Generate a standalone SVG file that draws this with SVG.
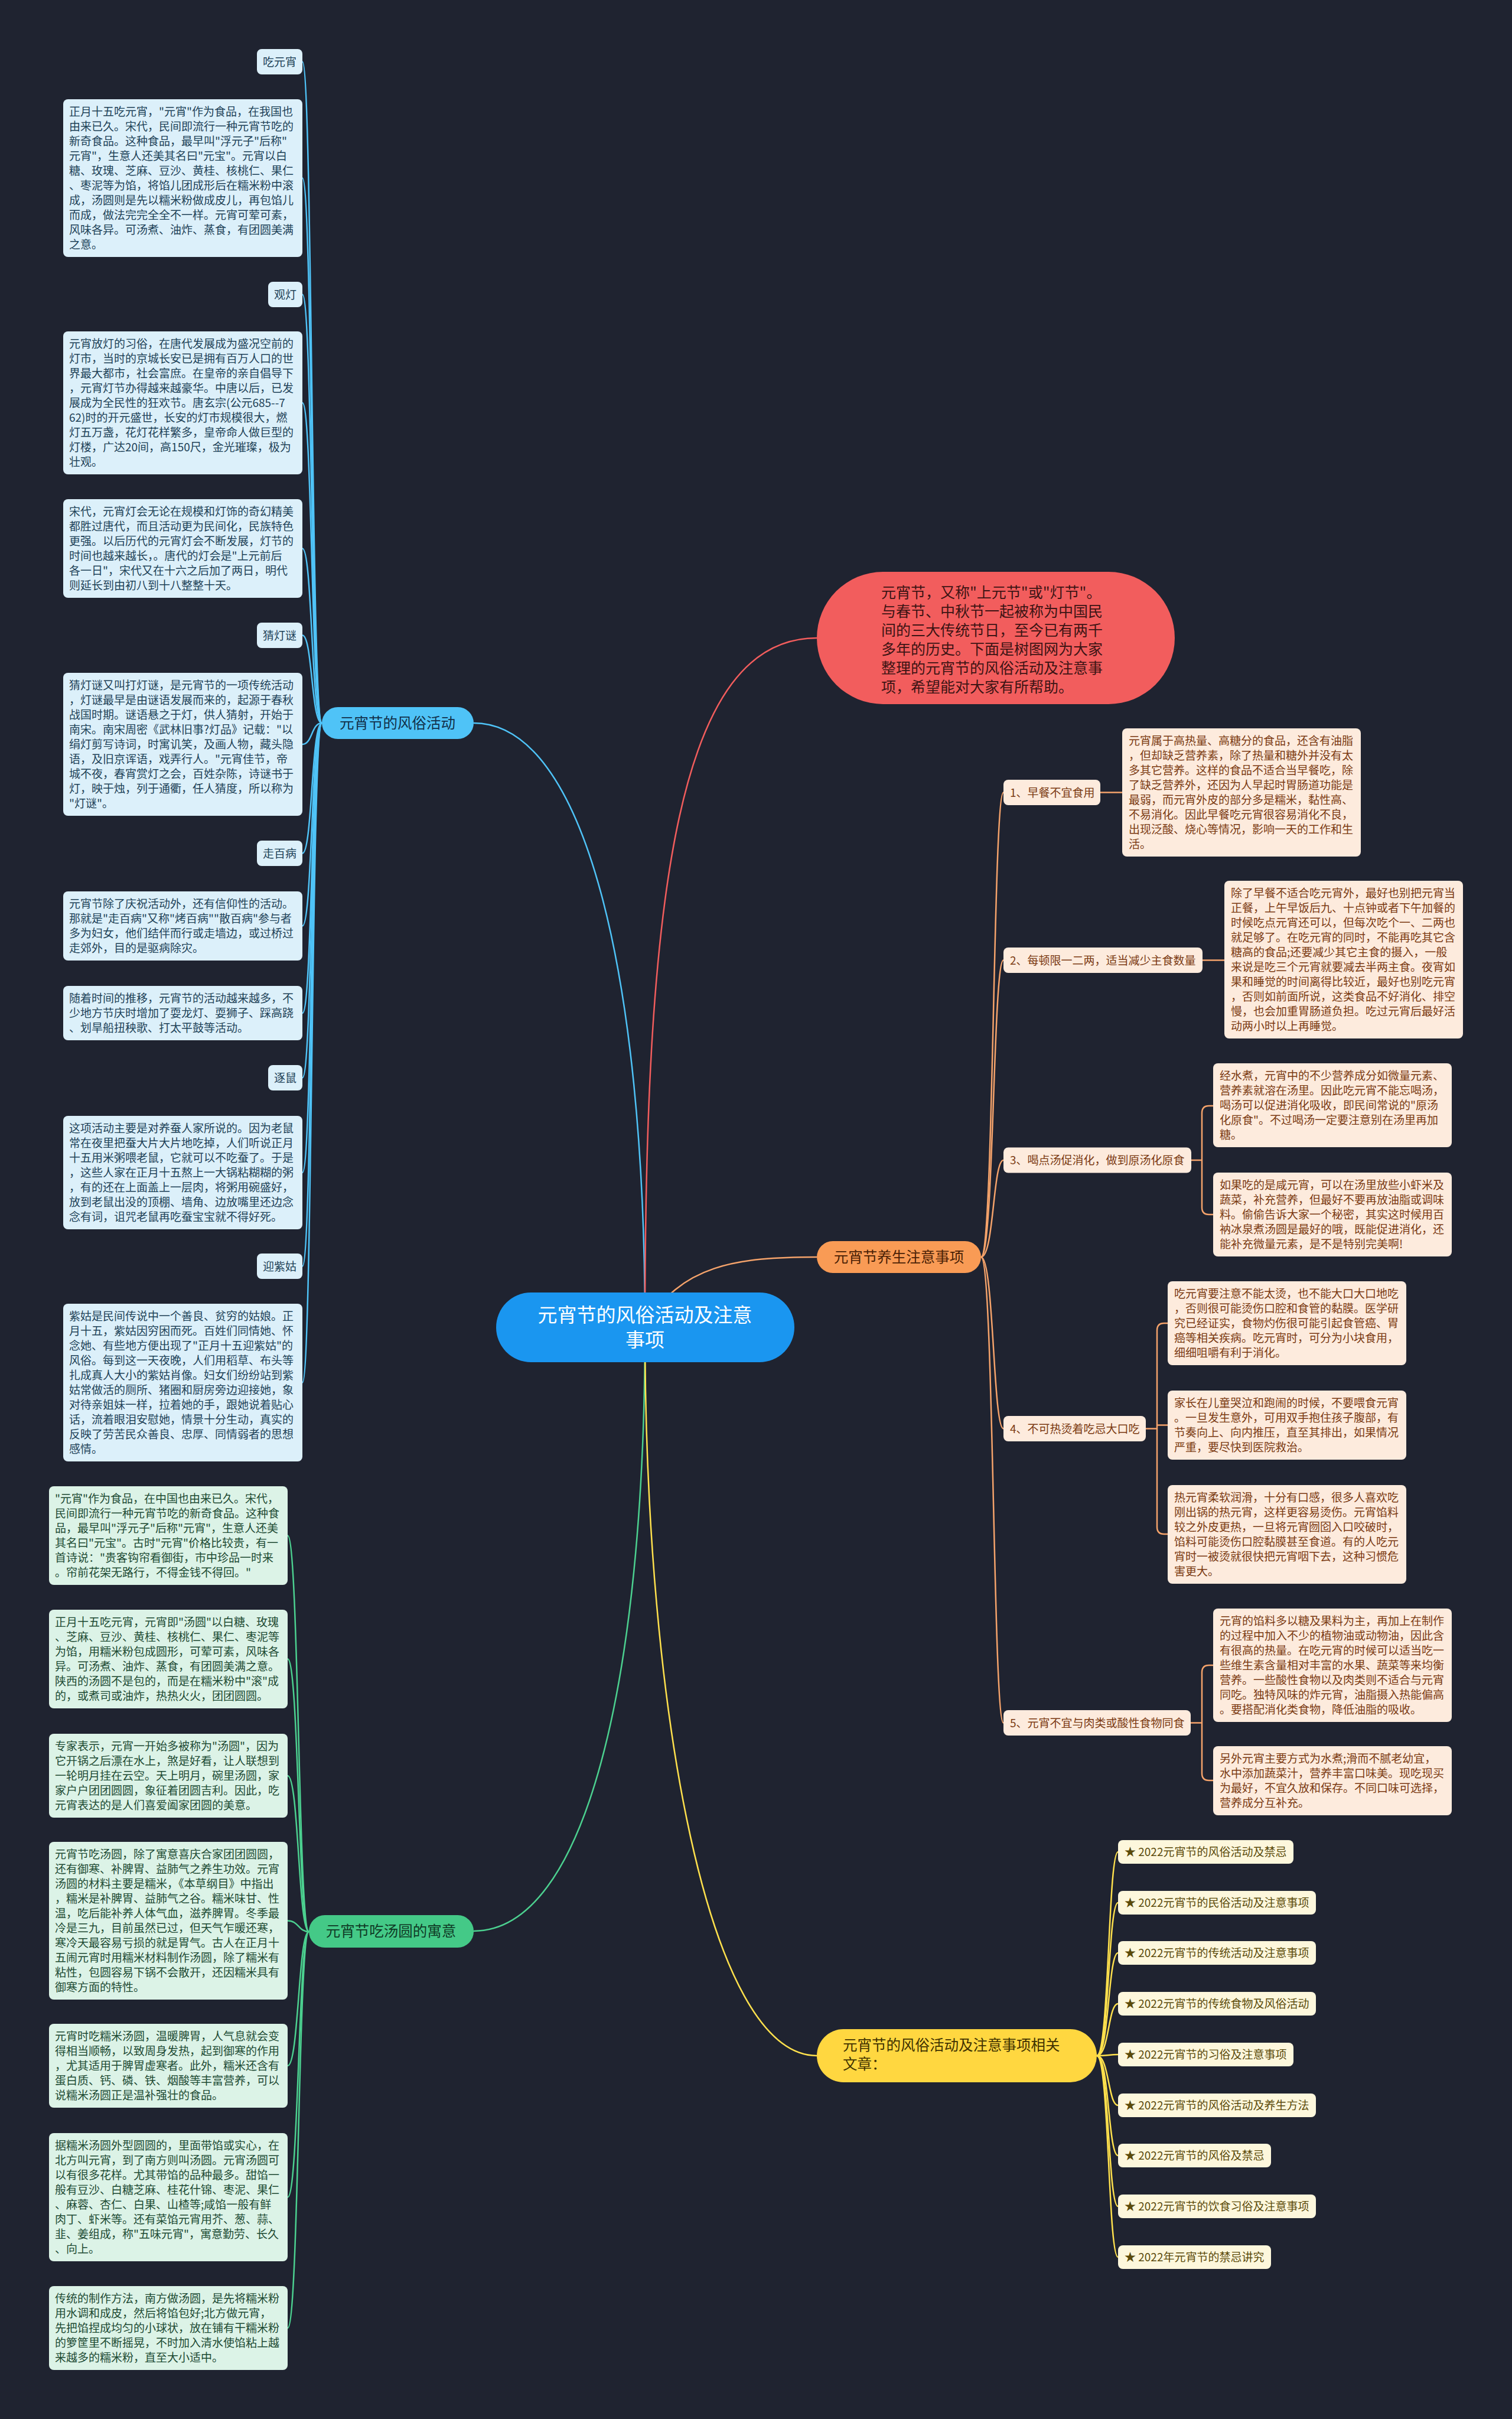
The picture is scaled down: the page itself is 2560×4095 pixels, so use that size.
<svg xmlns="http://www.w3.org/2000/svg" width="2560" height="4095" viewBox="0 0 2560 4095">
<style>
text{font-family:"Noto Sans CJK SC","Noto Sans",sans-serif}
.lf{font-size:19px}
.bl{fill:#dcf0fa}.blt{fill:#1e4258}
.or{fill:#fdebdd}.ort{fill:#7b3a12}
.gr{fill:#dcf3e7}.grt{fill:#1d4a33}
.ye{fill:#fdf7dc}.yet{fill:#5a4a0a}
.cb{fill:none;stroke:#4fc3f7;stroke-width:2.5}
.co{fill:none;stroke:#f5a36b;stroke-width:2.5}
.cg{fill:none;stroke:#4cd190;stroke-width:2.5}
.cy{fill:none;stroke:#ffe14d;stroke-width:2.5}
.cr{fill:none;stroke:#f25d5d;stroke-width:2.5}
.br{font-size:24.5px}
</style>
<rect width="2560" height="4095" fill="#1f2330"/>
<g id="connectors">
<path class="cb" d="M1092 2247 C1092 1650 990 1224 802 1224"/>
<path class="cr" d="M1092 2247 C1092 1500 1150 1080 1383 1080"/>
<path class="co" d="M1092 2247 C1150 2140 1250 2128 1383 2128"/>
<path class="cg" d="M1092 2247 C1092 2850 990 3269 802 3269"/>
<path class="cy" d="M1092 2247 C1092 2900 1200 3480 1383 3480"/>
<path class="cb" d="M545 1224 C527 1224 529 104.5 512 104.5"/>
<path class="cb" d="M545 1224 C527 1224 529 301.5 512 301.5"/>
<path class="cb" d="M545 1224 C527 1224 529 498.5 512 498.5"/>
<path class="cb" d="M545 1224 C527 1224 529 682 512 682"/>
<path class="cb" d="M545 1224 C527 1224 529 928.5 512 928.5"/>
<path class="cb" d="M545 1224 C527 1224 529 1075.5 512 1075.5"/>
<path class="cb" d="M545 1224 C527 1224 529 1260 512 1260"/>
<path class="cb" d="M545 1224 C527 1224 529 1444.5 512 1444.5"/>
<path class="cb" d="M545 1224 C527 1224 529 1567.5 512 1567.5"/>
<path class="cb" d="M545 1224 C527 1224 529 1715 512 1715"/>
<path class="cb" d="M545 1224 C527 1224 529 1824.5 512 1824.5"/>
<path class="cb" d="M545 1224 C527 1224 529 1985 512 1985"/>
<path class="cb" d="M545 1224 C527 1224 529 2143.5 512 2143.5"/>
<path class="cb" d="M545 1224 C527 1224 529 2340.5 512 2340.5"/>
<path class="cg" d="M523 3270 C505 3270 506 2599.5 487 2599.5"/>
<path class="cg" d="M523 3270 C505 3270 506 2808.5 487 2808.5"/>
<path class="cg" d="M523 3270 C505 3270 506 3006 487 3006"/>
<path class="cg" d="M523 3270 C505 3270 506 3251.5 487 3251.5"/>
<path class="cg" d="M523 3270 C505 3270 506 3497 487 3497"/>
<path class="cg" d="M523 3270 C505 3270 506 3719.5 487 3719.5"/>
<path class="cg" d="M523 3270 C505 3270 506 3941 487 3941"/>
<path class="co" d="M1661 2128 C1683 2128 1681 1341.5 1699 1341.5"/>
<path class="co" d="M1661 2128 C1683 2128 1681 1625.5 1699 1625.5"/>
<path class="co" d="M1661 2128 C1683 2128 1681 1964 1699 1964"/>
<path class="co" d="M1661 2128 C1683 2128 1681 2418.5 1699 2418.5"/>
<path class="co" d="M1661 2128 C1683 2128 1681 2916.5 1699 2916.5"/>
<path class="co" d="M1863 1341.5 H1900"/>
<path class="co" d="M2036 1625.5 H2073"/>
<path class="co" d="M2017 1964 H2035 M2035 1964 V1884 Q2035 1872 2047 1872 H2054 M2035 1964 V2044 Q2035 2056 2047 2056 H2054"/>
<path class="co" d="M1940 2418.5 H1959 M1959 2418.5 V2252 Q1959 2240 1971 2240 H1977 M1959 2418.5 V2412.5 H1977 M1959 2418.5 V2585 Q1959 2597 1971 2597 H1977"/>
<path class="co" d="M2016 2916.5 H2035 M2035 2916.5 V2831 Q2035 2819 2047 2819 H2054 M2035 2916.5 V3002 Q2035 3014 2047 3014 H2054"/>
<path class="cy" d="M1857 3480 C1878 3480 1876 3135 1893 3135"/>
<path class="cy" d="M1857 3480 C1878 3480 1876 3221 1893 3221"/>
<path class="cy" d="M1857 3480 C1878 3480 1876 3306 1893 3306"/>
<path class="cy" d="M1857 3480 C1878 3480 1876 3392 1893 3392"/>
<path class="cy" d="M1857 3480 C1878 3480 1876 3478 1893 3478"/>
<path class="cy" d="M1857 3480 C1878 3480 1876 3564 1893 3564"/>
<path class="cy" d="M1857 3480 C1878 3480 1876 3649 1893 3649"/>
<path class="cy" d="M1857 3480 C1878 3480 1876 3735 1893 3735"/>
<path class="cy" d="M1857 3480 C1878 3480 1876 3821 1893 3821"/>
</g>
<g id="root">
<rect x="840" y="2188" width="505" height="118" rx="59" fill="#1a96f0"/>
<text x="1092" y="2238" font-size="33" fill="#ffffff" text-anchor="middle">元宵节的风俗活动及注意</text>
<text x="1092" y="2280" font-size="33" fill="#ffffff" text-anchor="middle">事项</text>
</g>
<g id="intro">
<rect x="1383" y="968" width="606" height="224" rx="112" fill="#f25d5d"/>
<text font-size="25" fill="#3d1414"><tspan x="1492" y="1012">元宵节，又称"上元节"或"灯节"。</tspan><tspan x="1492" y="1044">与春节、中秋节一起被称为中国民</tspan><tspan x="1492" y="1076">间的三大传统节日，至今已有两千</tspan><tspan x="1492" y="1108">多年的历史。下面是树图网为大家</tspan><tspan x="1492" y="1140">整理的元宵节的风俗活动及注意事</tspan><tspan x="1492" y="1172">项，希望能对大家有所帮助。</tspan></text>
</g>
<g id="branch-customs">
<rect x="545" y="1197" width="257" height="54" rx="27" fill="#4fc3f7"/>
<text class="br" x="673" y="1233" fill="#12304a" text-anchor="middle">元宵节的风俗活动</text>
</g>
<g id="branch-health">
<rect x="1383" y="2101" width="278" height="54" rx="27" fill="#f99b55"/>
<text class="br" x="1522" y="2137" fill="#4a1f05" text-anchor="middle">元宵节养生注意事项</text>
</g>
<g id="branch-tangyuan">
<rect x="523" y="3242" width="279" height="55" rx="27" fill="#44c987"/>
<text class="br" x="662" y="3278" fill="#0f3a25" text-anchor="middle">元宵节吃汤圆的寓意</text>
</g>
<g id="branch-articles">
<rect x="1383" y="3435" width="474" height="90" rx="45" fill="#ffd740"/>
<text class="br" fill="#3f3200"><tspan x="1427" y="3471">元宵节的风俗活动及注意事项相关</tspan><tspan x="1427" y="3503">文章：</tspan></text>
</g>
<g id="blue-leaves" class="lf">
<g id="b-chiyuanxiao"><rect class="bl" x="435" y="83" width="77" height="43" rx="8"/><text class="blt" x="473.5" y="111.5" text-anchor="middle">吃元宵</text></g>
<g id="b-p1"><rect class="bl" x="107" y="168" width="405" height="267" rx="8"/><text class="blt"><tspan x="117" y="196">正月十五吃元宵，"元宵"作为食品，在我国也</tspan><tspan x="117" y="221">由来已久。宋代，民间即流行一种元宵节吃的</tspan><tspan x="117" y="246">新奇食品。这种食品，最早叫"浮元子"后称"</tspan><tspan x="117" y="271">元宵"，生意人还美其名曰"元宝"。元宵以白</tspan><tspan x="117" y="296">糖、玫瑰、芝麻、豆沙、黄桂、核桃仁、果仁</tspan><tspan x="117" y="321">、枣泥等为馅，将馅儿团成形后在糯米粉中滚</tspan><tspan x="117" y="346">成，汤圆则是先以糯米粉做成皮儿，再包馅儿</tspan><tspan x="117" y="371">而成，做法完完全全不一样。元宵可荤可素，</tspan><tspan x="117" y="396">风味各异。可汤煮、油炸、蒸食，有团圆美满</tspan><tspan x="117" y="421">之意。</tspan></text></g>
<g id="b-guandeng"><rect class="bl" x="454" y="477" width="58" height="43" rx="8"/><text class="blt" x="483" y="505.5" text-anchor="middle">观灯</text></g>
<g id="b-p2"><rect class="bl" x="107" y="561" width="405" height="242" rx="8"/><text class="blt"><tspan x="117" y="589">元宵放灯的习俗，在唐代发展成为盛况空前的</tspan><tspan x="117" y="614">灯市，当时的京城长安已是拥有百万人口的世</tspan><tspan x="117" y="639">界最大都市，社会富庶。在皇帝的亲自倡导下</tspan><tspan x="117" y="664">，元宵灯节办得越来越豪华。中唐以后，已发</tspan><tspan x="117" y="689">展成为全民性的狂欢节。唐玄宗(公元685--7</tspan><tspan x="117" y="714">62)时的开元盛世，长安的灯市规模很大，燃</tspan><tspan x="117" y="739">灯五万盏，花灯花样繁多，皇帝命人做巨型的</tspan><tspan x="117" y="764">灯楼，广达20间，高150尺，金光璀璨，极为</tspan><tspan x="117" y="789">壮观。</tspan></text></g>
<g id="b-p3"><rect class="bl" x="107" y="845" width="405" height="167" rx="8"/><text class="blt"><tspan x="117" y="873">宋代，元宵灯会无论在规模和灯饰的奇幻精美</tspan><tspan x="117" y="898">都胜过唐代，而且活动更为民间化，民族特色</tspan><tspan x="117" y="923">更强。以后历代的元宵灯会不断发展，灯节的</tspan><tspan x="117" y="948">时间也越来越长，。唐代的灯会是"上元前后</tspan><tspan x="117" y="973">各一日"，宋代又在十六之后加了两日，明代</tspan><tspan x="117" y="998">则延长到由初八到十八整整十天。</tspan></text></g>
<g id="b-caidengmi"><rect class="bl" x="435" y="1054" width="77" height="43" rx="8"/><text class="blt" x="473.5" y="1082.5" text-anchor="middle">猜灯谜</text></g>
<g id="b-p4"><rect class="bl" x="107" y="1139" width="405" height="242" rx="8"/><text class="blt"><tspan x="117" y="1167">猜灯谜又叫打灯谜，是元宵节的一项传统活动</tspan><tspan x="117" y="1192">，灯谜最早是由谜语发展而来的，起源于春秋</tspan><tspan x="117" y="1217">战国时期。谜语悬之于灯，供人猜射，开始于</tspan><tspan x="117" y="1242">南宋。南宋周密《武林旧事?灯品》记载："以</tspan><tspan x="117" y="1267">绢灯剪写诗词，时寓讥笑，及画人物，藏头隐</tspan><tspan x="117" y="1292">语，及旧京诨语，戏弄行人。"元宵佳节，帝</tspan><tspan x="117" y="1317">城不夜，春宵赏灯之会，百姓杂陈，诗谜书于</tspan><tspan x="117" y="1342">灯，映于烛，列于通衢，任人猜度，所以称为</tspan><tspan x="117" y="1367">"灯谜"。</tspan></text></g>
<g id="b-zoubaibing"><rect class="bl" x="435" y="1423" width="77" height="43" rx="8"/><text class="blt" x="473.5" y="1451.5" text-anchor="middle">走百病</text></g>
<g id="b-p5"><rect class="bl" x="107" y="1509" width="405" height="117" rx="8"/><text class="blt"><tspan x="117" y="1537">元宵节除了庆祝活动外，还有信仰性的活动。</tspan><tspan x="117" y="1562">那就是"走百病"又称"烤百病""散百病"参与者</tspan><tspan x="117" y="1587">多为妇女，他们结伴而行或走墙边，或过桥过</tspan><tspan x="117" y="1612">走郊外，目的是驱病除灾。</tspan></text></g>
<g id="b-p6"><rect class="bl" x="107" y="1669" width="405" height="92" rx="8"/><text class="blt"><tspan x="117" y="1697">随着时间的推移，元宵节的活动越来越多，不</tspan><tspan x="117" y="1722">少地方节庆时增加了耍龙灯、耍狮子、踩高跷</tspan><tspan x="117" y="1747">、划旱船扭秧歌、打太平鼓等活动。</tspan></text></g>
<g id="b-zhushu"><rect class="bl" x="454" y="1803" width="58" height="43" rx="8"/><text class="blt" x="483" y="1831.5" text-anchor="middle">逐鼠</text></g>
<g id="b-p7"><rect class="bl" x="107" y="1889" width="405" height="192" rx="8"/><text class="blt"><tspan x="117" y="1917">这项活动主要是对养蚕人家所说的。因为老鼠</tspan><tspan x="117" y="1942">常在夜里把蚕大片大片地吃掉，人们听说正月</tspan><tspan x="117" y="1967">十五用米粥喂老鼠，它就可以不吃蚕了。于是</tspan><tspan x="117" y="1992">，这些人家在正月十五熬上一大锅粘糊糊的粥</tspan><tspan x="117" y="2017">，有的还在上面盖上一层肉，将粥用碗盛好，</tspan><tspan x="117" y="2042">放到老鼠出没的顶棚、墙角、边放嘴里还边念</tspan><tspan x="117" y="2067">念有词，诅咒老鼠再吃蚕宝宝就不得好死。</tspan></text></g>
<g id="b-yingzigu"><rect class="bl" x="435" y="2122" width="77" height="43" rx="8"/><text class="blt" x="473.5" y="2150.5" text-anchor="middle">迎紫姑</text></g>
<g id="b-p8"><rect class="bl" x="107" y="2207" width="405" height="267" rx="8"/><text class="blt"><tspan x="117" y="2235">紫姑是民间传说中一个善良、贫穷的姑娘。正</tspan><tspan x="117" y="2260">月十五，紫姑因穷困而死。百姓们同情她、怀</tspan><tspan x="117" y="2285">念她、有些地方便出现了"正月十五迎紫姑"的</tspan><tspan x="117" y="2310">风俗。每到这一天夜晚，人们用稻草、布头等</tspan><tspan x="117" y="2335">扎成真人大小的紫姑肖像。妇女们纷纷站到紫</tspan><tspan x="117" y="2360">姑常做活的厕所、猪圈和厨房旁边迎接她，象</tspan><tspan x="117" y="2385">对待亲姐妹一样，拉着她的手，跟她说着贴心</tspan><tspan x="117" y="2410">话，流着眼泪安慰她，情景十分生动，真实的</tspan><tspan x="117" y="2435">反映了劳苦民众善良、忠厚、同情弱者的思想</tspan><tspan x="117" y="2460">感情。</tspan></text></g>
</g>
<g id="green-leaves" class="lf">
<g id="g-p1"><rect class="gr" x="83" y="2516" width="404" height="167" rx="8"/><text class="grt"><tspan x="93" y="2544">"元宵"作为食品，在中国也由来已久。宋代，</tspan><tspan x="93" y="2569">民间即流行一种元宵节吃的新奇食品。这种食</tspan><tspan x="93" y="2594">品，最早叫"浮元子"后称"元宵"，生意人还美</tspan><tspan x="93" y="2619">其名曰"元宝"。古时"元宵"价格比较贵，有一</tspan><tspan x="93" y="2644">首诗说："贵客钩帘看御街，市中珍品一时来</tspan><tspan x="93" y="2669">。帘前花架无路行，不得金钱不得回。"</tspan></text></g>
<g id="g-p2"><rect class="gr" x="83" y="2725" width="404" height="167" rx="8"/><text class="grt"><tspan x="93" y="2753">正月十五吃元宵，元宵即"汤圆"以白糖、玫瑰</tspan><tspan x="93" y="2778">、芝麻、豆沙、黄桂、核桃仁、果仁、枣泥等</tspan><tspan x="93" y="2803">为馅，用糯米粉包成圆形，可荤可素，风味各</tspan><tspan x="93" y="2828">异。可汤煮、油炸、蒸食，有团圆美满之意。</tspan><tspan x="93" y="2853">陕西的汤圆不是包的，而是在糯米粉中"滚"成</tspan><tspan x="93" y="2878">的，或煮司或油炸，热热火火，团团圆圆。</tspan></text></g>
<g id="g-p3"><rect class="gr" x="83" y="2935" width="404" height="142" rx="8"/><text class="grt"><tspan x="93" y="2963">专家表示，元宵一开始多被称为"汤圆"，因为</tspan><tspan x="93" y="2988">它开锅之后漂在水上，煞是好看，让人联想到</tspan><tspan x="93" y="3013">一轮明月挂在云空。天上明月，碗里汤圆，家</tspan><tspan x="93" y="3038">家户户团团圆圆，象征着团圆吉利。因此，吃</tspan><tspan x="93" y="3063">元宵表达的是人们喜爱阖家团圆的美意。</tspan></text></g>
<g id="g-p4"><rect class="gr" x="83" y="3118" width="404" height="267" rx="8"/><text class="grt"><tspan x="93" y="3146">元宵节吃汤圆，除了寓意喜庆合家团团圆圆，</tspan><tspan x="93" y="3171">还有御寒、补脾胃、益肺气之养生功效。元宵</tspan><tspan x="93" y="3196">汤圆的材料主要是糯米，《本草纲目》中指出</tspan><tspan x="93" y="3221">，糯米是补脾胃、益肺气之谷。糯米味甘、性</tspan><tspan x="93" y="3246">温，吃后能补养人体气血，滋养脾胃。冬季最</tspan><tspan x="93" y="3271">冷是三九，目前虽然已过，但天气乍暖还寒，</tspan><tspan x="93" y="3296">寒冷天最容易亏损的就是胃气。古人在正月十</tspan><tspan x="93" y="3321">五闹元宵时用糯米材料制作汤圆，除了糯米有</tspan><tspan x="93" y="3346">粘性，包圆容易下锅不会散开，还因糯米具有</tspan><tspan x="93" y="3371">御寒方面的特性。</tspan></text></g>
<g id="g-p5"><rect class="gr" x="83" y="3426" width="404" height="142" rx="8"/><text class="grt"><tspan x="93" y="3454">元宵时吃糯米汤圆，温暖脾胃，人气息就会变</tspan><tspan x="93" y="3479">得相当顺畅，以致周身发热，起到御寒的作用</tspan><tspan x="93" y="3504">，尤其适用于脾胃虚寒者。此外，糯米还含有</tspan><tspan x="93" y="3529">蛋白质、钙、磷、铁、烟酸等丰富营养，可以</tspan><tspan x="93" y="3554">说糯米汤圆正是温补强壮的食品。</tspan></text></g>
<g id="g-p6"><rect class="gr" x="83" y="3611" width="404" height="217" rx="8"/><text class="grt"><tspan x="93" y="3639">据糯米汤圆外型圆圆的，里面带馅或实心，在</tspan><tspan x="93" y="3664">北方叫元宵，到了南方则叫汤圆。元宵汤圆可</tspan><tspan x="93" y="3689">以有很多花样。尤其带馅的品种最多。甜馅一</tspan><tspan x="93" y="3714">般有豆沙、白糖芝麻、桂花什锦、枣泥、果仁</tspan><tspan x="93" y="3739">、麻蓉、杏仁、白果、山楂等;咸馅一般有鲜</tspan><tspan x="93" y="3764">肉丁、虾米等。还有菜馅元宵用芥、葱、蒜、</tspan><tspan x="93" y="3789">韭、姜组成，称"五味元宵"，寓意勤劳、长久</tspan><tspan x="93" y="3814">、向上。</tspan></text></g>
<g id="g-p7"><rect class="gr" x="83" y="3870" width="404" height="142" rx="8"/><text class="grt"><tspan x="93" y="3898">传统的制作方法，南方做汤圆，是先将糯米粉</tspan><tspan x="93" y="3923">用水调和成皮，然后将馅包好;北方做元宵，</tspan><tspan x="93" y="3948">先把馅捏成均匀的小球状，放在铺有干糯米粉</tspan><tspan x="93" y="3973">的箩筐里不断摇晃，不时加入清水使馅粘上越</tspan><tspan x="93" y="3998">来越多的糯米粉，直至大小适中。</tspan></text></g>
</g>
<g id="orange-nodes" class="lf">
<g id="o-n1"><rect class="or" x="1699" y="1320" width="164" height="43" rx="8"/><text class="ort" x="1710" y="1348.5">1、早餐不宜食用</text></g>
<g id="o-p1"><rect class="or" x="1900" y="1233" width="404" height="217" rx="8"/><text class="ort"><tspan x="1911" y="1261">元宵属于高热量、高糖分的食品，还含有油脂</tspan><tspan x="1911" y="1286">，但却缺乏营养素，除了热量和糖外并没有太</tspan><tspan x="1911" y="1311">多其它营养。这样的食品不适合当早餐吃，除</tspan><tspan x="1911" y="1336">了缺乏营养外，还因为人早起时胃肠道功能是</tspan><tspan x="1911" y="1361">最弱，而元宵外皮的部分多是糯米，黏性高、</tspan><tspan x="1911" y="1386">不易消化。因此早餐吃元宵很容易消化不良，</tspan><tspan x="1911" y="1411">出现泛酸、烧心等情况，影响一天的工作和生</tspan><tspan x="1911" y="1436">活。</tspan></text></g>
<g id="o-n2"><rect class="or" x="1699" y="1604" width="337" height="43" rx="8"/><text class="ort" x="1710" y="1632.5">2、每顿限一二两，适当减少主食数量</text></g>
<g id="o-p2"><rect class="or" x="2073" y="1491" width="404" height="267" rx="8"/><text class="ort"><tspan x="2084" y="1519">除了早餐不适合吃元宵外，最好也别把元宵当</tspan><tspan x="2084" y="1544">正餐，上午早饭后九、十点钟或者下午加餐的</tspan><tspan x="2084" y="1569">时候吃点元宵还可以，但每次吃个一、二两也</tspan><tspan x="2084" y="1594">就足够了。在吃元宵的同时，不能再吃其它含</tspan><tspan x="2084" y="1619">糖高的食品;还要减少其它主食的摄入，一般</tspan><tspan x="2084" y="1644">来说是吃三个元宵就要减去半两主食。夜宵如</tspan><tspan x="2084" y="1669">果和睡觉的时间离得比较近，最好也别吃元宵</tspan><tspan x="2084" y="1694">，否则如前面所说，这类食品不好消化、排空</tspan><tspan x="2084" y="1719">慢，也会加重胃肠道负担。吃过元宵后最好活</tspan><tspan x="2084" y="1744">动两小时以上再睡觉。</tspan></text></g>
<g id="o-n3"><rect class="or" x="1699" y="1942.5" width="318" height="43" rx="8"/><text class="ort" x="1710" y="1971">3、喝点汤促消化，做到原汤化原食</text></g>
<g id="o-p3a"><rect class="or" x="2054" y="1800" width="404" height="142" rx="8"/><text class="ort"><tspan x="2065" y="1828">经水煮，元宵中的不少营养成分如微量元素、</tspan><tspan x="2065" y="1853">营养素就溶在汤里。因此吃元宵不能忘喝汤，</tspan><tspan x="2065" y="1878">喝汤可以促进消化吸收，即民间常说的"原汤</tspan><tspan x="2065" y="1903">化原食"。不过喝汤一定要注意别在汤里再加</tspan><tspan x="2065" y="1928">糖。</tspan></text></g>
<g id="o-p3b"><rect class="or" x="2054" y="1985" width="404" height="142" rx="8"/><text class="ort"><tspan x="2065" y="2013">如果吃的是咸元宵，可以在汤里放些小虾米及</tspan><tspan x="2065" y="2038">蔬菜，补充营养，但最好不要再放油脂或调味</tspan><tspan x="2065" y="2063">料。偷偷告诉大家一个秘密，其实这时候用百</tspan><tspan x="2065" y="2088">衲冰泉煮汤圆是最好的哦，既能促进消化，还</tspan><tspan x="2065" y="2113">能补充微量元素，是不是特别完美啊!</tspan></text></g>
<g id="o-n4"><rect class="or" x="1699" y="2397" width="241" height="43" rx="8"/><text class="ort" x="1710" y="2425.5">4、不可热烫着吃忌大口吃</text></g>
<g id="o-p4a"><rect class="or" x="1977" y="2169" width="404" height="142" rx="8"/><text class="ort"><tspan x="1988" y="2197">吃元宵要注意不能太烫，也不能大口大口地吃</tspan><tspan x="1988" y="2222">，否则很可能烫伤口腔和食管的黏膜。医学研</tspan><tspan x="1988" y="2247">究已经证实，食物灼伤很可能引起食管癌、胃</tspan><tspan x="1988" y="2272">癌等相关疾病。吃元宵时，可分为小块食用，</tspan><tspan x="1988" y="2297">细细咀嚼有利于消化。</tspan></text></g>
<g id="o-p4b"><rect class="or" x="1977" y="2354" width="404" height="117" rx="8"/><text class="ort"><tspan x="1988" y="2382">家长在儿童哭泣和跑闹的时候，不要喂食元宵</tspan><tspan x="1988" y="2407">。一旦发生意外，可用双手抱住孩子腹部，有</tspan><tspan x="1988" y="2432">节奏向上、向内推压，直至其排出，如果情况</tspan><tspan x="1988" y="2457">严重，要尽快到医院救治。</tspan></text></g>
<g id="o-p4c"><rect class="or" x="1977" y="2514" width="404" height="167" rx="8"/><text class="ort"><tspan x="1988" y="2542">热元宵柔软润滑，十分有口感，很多人喜欢吃</tspan><tspan x="1988" y="2567">刚出锅的热元宵，这样更容易烫伤。元宵馅料</tspan><tspan x="1988" y="2592">较之外皮更热，一旦将元宵囫囵入口咬破时，</tspan><tspan x="1988" y="2617">馅料可能烫伤口腔黏膜甚至食道。有的人吃元</tspan><tspan x="1988" y="2642">宵时一被烫就很快把元宵咽下去，这种习惯危</tspan><tspan x="1988" y="2667">害更大。</tspan></text></g>
<g id="o-n5"><rect class="or" x="1699" y="2895" width="317" height="43" rx="8"/><text class="ort" x="1710" y="2923.5">5、元宵不宜与肉类或酸性食物同食</text></g>
<g id="o-p5a"><rect class="or" x="2054" y="2723" width="404" height="192" rx="8"/><text class="ort"><tspan x="2065" y="2751">元宵的馅料多以糖及果料为主，再加上在制作</tspan><tspan x="2065" y="2776">的过程中加入不少的植物油或动物油，因此含</tspan><tspan x="2065" y="2801">有很高的热量。在吃元宵的时候可以适当吃一</tspan><tspan x="2065" y="2826">些维生素含量相对丰富的水果、蔬菜等来均衡</tspan><tspan x="2065" y="2851">营养。一些酸性食物以及肉类则不适合与元宵</tspan><tspan x="2065" y="2876">同吃。独特风味的炸元宵，油脂摄入热能偏高</tspan><tspan x="2065" y="2901">。要搭配消化类食物，降低油脂的吸收。</tspan></text></g>
<g id="o-p5b"><rect class="or" x="2054" y="2956" width="404" height="117" rx="8"/><text class="ort"><tspan x="2065" y="2984">另外元宵主要方式为水煮;滑而不腻老幼宜，</tspan><tspan x="2065" y="3009">水中添加蔬菜汁，营养丰富口味美。现吃现买</tspan><tspan x="2065" y="3034">为最好，不宜久放和保存。不同口味可选择，</tspan><tspan x="2065" y="3059">营养成分互补充。</tspan></text></g>
</g>
<g id="yellow-items" class="lf">
<g id="y1"><rect class="ye" x="1893" y="3115" width="297" height="40" rx="8"/><text class="yet" x="1904" y="3142">★ 2022元宵节的风俗活动及禁忌</text></g>
<g id="y2"><rect class="ye" x="1893" y="3201" width="335" height="40" rx="8"/><text class="yet" x="1904" y="3228">★ 2022元宵节的民俗活动及注意事项</text></g>
<g id="y3"><rect class="ye" x="1893" y="3286" width="335" height="40" rx="8"/><text class="yet" x="1904" y="3313">★ 2022元宵节的传统活动及注意事项</text></g>
<g id="y4"><rect class="ye" x="1893" y="3372" width="335" height="40" rx="8"/><text class="yet" x="1904" y="3399">★ 2022元宵节的传统食物及风俗活动</text></g>
<g id="y5"><rect class="ye" x="1893" y="3458" width="297" height="40" rx="8"/><text class="yet" x="1904" y="3485">★ 2022元宵节的习俗及注意事项</text></g>
<g id="y6"><rect class="ye" x="1893" y="3544" width="335" height="40" rx="8"/><text class="yet" x="1904" y="3571">★ 2022元宵节的风俗活动及养生方法</text></g>
<g id="y7"><rect class="ye" x="1893" y="3629" width="259" height="40" rx="8"/><text class="yet" x="1904" y="3656">★ 2022元宵节的风俗及禁忌</text></g>
<g id="y8"><rect class="ye" x="1893" y="3715" width="335" height="40" rx="8"/><text class="yet" x="1904" y="3742">★ 2022元宵节的饮食习俗及注意事项</text></g>
<g id="y9"><rect class="ye" x="1893" y="3801" width="259" height="40" rx="8"/><text class="yet" x="1904" y="3828">★ 2022年元宵节的禁忌讲究</text></g>
</g>
</svg>
